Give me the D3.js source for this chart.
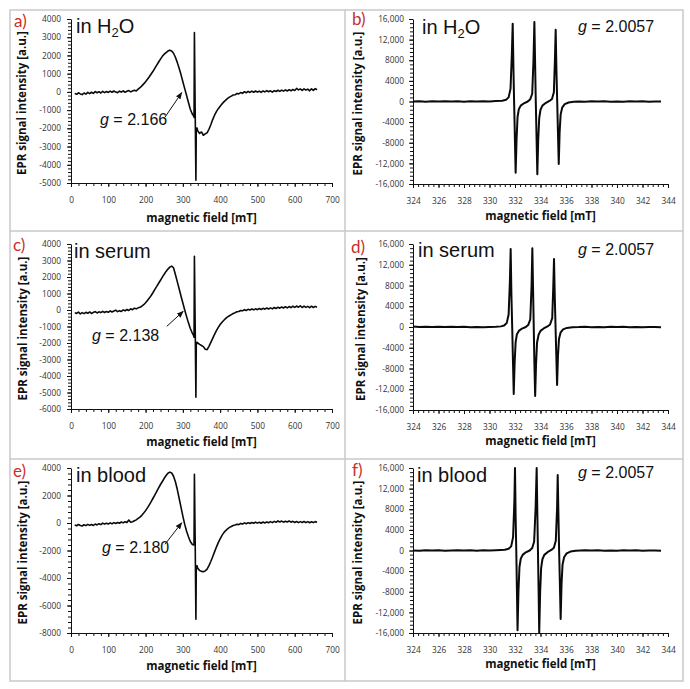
<!DOCTYPE html>
<html>
<head>
<meta charset="utf-8">
<script src="https://cdn.jsdelivr.net/npm/d3@7"></script>
<style>
    body { margin: 0; background: #ffffff; }
    .tick text { font-family: "Open Sans", sans-serif; font-size: 8.3px; fill: #333333; }
    .axis-title { font-family: "Open Sans", sans-serif; font-weight: bold; font-size: 11.5px; fill: #111111; }
    .panel-letter { font-family: "Lato", sans-serif; font-size: 17px; fill: #c8302a; }
    .medium, .g-value { font-family: "Liberation Sans", Arial, sans-serif; fill: #111111; }
</style>
</head>
<body>
<div id="figure"></div>
<script>

/* Data */

// Broad scans (0 - 700 mT): [field in mT, EPR intensity in a.u.]
var spectrumH2O = [
    [10,-80],[15,-130],[20,-50],[25,-110],[30,-150],[35,-60],[40,-120],[45,-30],[50,-100],[55,-20],
    [60,-80],[65,20],[70,-50],[75,10],[80,-60],[85,30],[90,-40],[95,20],[100,-30],[105,40],
    [110,-20],[115,50],[120,-10],[125,-40],[130,40],[135,-10],[140,60],[145,-20],[150,30],[155,70],
    [160,0],[165,50],[170,90],[175,50],[180,150],[185,230],[190,330],[195,440],[200,560],[205,690],
    [210,830],[215,980],[220,1130],[225,1300],[230,1470],[235,1640],[240,1800],[245,1950],[250,2070],[255,2160],
    [260,2240],[265,2290],[270,2250],[275,2120],[280,1900],[285,1620],[290,1300],[295,950],[300,560],[305,180],
    [310,-200],[315,-580],[320,-950],[325,-1200],[329,-1330],[330,-1400],[331,3250],[333,-900],[335,-4850],[336,-2000],
    [338,-1980],[340,-2150],[345,-2280],[350,-2200],[355,-2380],[360,-2300],[365,-2250],[370,-2050],[375,-1800],[380,-1520],
    [385,-1280],[390,-1080],[395,-920],[400,-790],[405,-660],[410,-550],[415,-450],[420,-360],[425,-290],[430,-230],
    [435,-170],[440,-160],[445,-90],[450,-110],[455,-40],[460,-80],[465,10],[470,-50],[475,30],[480,-30],
    [485,40],[490,-20],[495,50],[500,-10],[505,40],[510,-30],[515,50],[520,0],[525,70],[530,10],
    [535,60],[540,-10],[545,70],[550,20],[555,90],[560,30],[565,100],[570,40],[575,110],[580,50],
    [585,120],[590,60],[595,130],[600,80],[605,190],[610,110],[615,160],[620,80],[625,170],[630,100],
    [635,150],[640,60],[645,170],[650,80],[655,180],[660,120]
];

var spectrumSerum = [
    [10,-160],[15,-210],[20,-130],[25,-240],[30,-160],[35,-220],[40,-140],[45,-200],[50,-120],[55,-210],
    [60,-140],[65,-100],[70,-180],[75,-110],[80,-160],[85,-80],[90,-150],[95,-90],[100,-140],[105,-50],
    [110,-120],[115,-60],[120,-10],[125,-100],[130,-40],[135,-90],[140,10],[145,-50],[150,30],[155,-30],
    [160,70],[165,20],[170,110],[175,70],[180,130],[185,170],[190,230],[195,320],[200,440],[205,580],
    [210,720],[215,880],[220,1060],[225,1250],[230,1430],[235,1620],[240,1800],[245,1990],[250,2170],[255,2340],
    [260,2480],[265,2600],[270,2660],[275,2560],[280,2150],[285,1720],[290,1290],[295,850],[300,420],[305,0],
    [310,-400],[315,-780],[320,-1120],[325,-1380],[329,-1560],[330,-1650],[331,3250],[333,-800],[335,-5290],[336,-2100],
    [338,-1950],[340,-2000],[345,-2080],[350,-2150],[355,-2220],[360,-2380],[365,-2400],[370,-2200],[375,-1960],[380,-1720],
    [385,-1480],[390,-1250],[395,-1050],[400,-880],[405,-740],[410,-620],[415,-510],[420,-420],[425,-350],[430,-280],
    [435,-210],[440,-170],[445,-110],[450,-90],[455,-30],[460,-50],[465,20],[470,-30],[475,40],[480,0],
    [485,60],[490,10],[495,70],[500,20],[505,90],[510,30],[515,100],[520,50],[525,120],[530,60],
    [535,130],[540,70],[545,150],[550,90],[555,170],[560,110],[565,180],[570,120],[575,200],[580,130],
    [585,210],[590,140],[595,230],[600,160],[605,240],[610,170],[615,250],[620,150],[625,240],[630,160],
    [635,220],[640,140],[645,230],[650,150],[655,220],[660,170]
];

var spectrumBlood = [
    [10,-150],[15,-200],[20,-110],[25,-180],[30,-220],[35,-130],[40,-190],[45,-100],[50,-170],[55,-110],
    [60,-180],[65,-80],[70,-140],[75,-50],[80,-120],[85,-10],[90,-80],[95,-20],[100,-70],[105,10],
    [110,-60],[115,30],[120,-40],[125,40],[130,-20],[135,70],[140,10],[145,90],[150,30],[155,220],
    [160,60],[165,90],[170,160],[175,230],[180,330],[185,430],[190,560],[195,720],[200,900],[205,1100],
    [210,1320],[215,1550],[220,1800],[225,2050],[230,2300],[235,2550],[240,2800],[245,3020],[250,3250],[255,3450],
    [260,3620],[265,3700],[270,3640],[275,3400],[280,3000],[285,2450],[290,1800],[295,1150],[300,500],[305,-100],
    [310,-600],[315,-1000],[320,-1350],[325,-1550],[329,-1600],[330,-1500],[331,3540],[333,-1200],[335,-7000],[336,-3200],
    [338,-3100],[340,-3300],[345,-3450],[350,-3520],[355,-3550],[360,-3480],[365,-3350],[370,-3100],[375,-2800],[380,-2450],
    [385,-2100],[390,-1750],[395,-1430],[400,-1150],[405,-900],[410,-700],[415,-550],[420,-420],[425,-320],[430,-250],
    [435,-180],[440,-150],[445,-90],[450,-120],[455,-30],[460,-80],[465,10],[470,-50],[475,30],[480,-40],
    [485,40],[490,-20],[495,60],[500,-10],[505,50],[510,-20],[515,70],[520,0],[525,80],[530,20],
    [535,100],[540,30],[545,120],[550,50],[555,150],[560,70],[565,140],[570,60],[575,130],[580,70],
    [585,150],[590,60],[595,120],[600,40],[605,110],[610,30],[615,100],[620,40],[625,110],[630,30],
    [635,100],[640,20],[645,90],[650,30],[655,100],[660,60]
];

// Narrow scans (324 - 344 mT), three nitroxide lines
var narrowH2O = [
    [324.0,0],[324.5,60],[325.0,-30],[325.5,40],[326.0,-20],[326.5,50],[327.0,0],[327.5,40],[328.0,-30],[328.5,50],
    [329.0,10],[329.5,60],[330.0,20],[330.5,80],[331.0,150],
    [331.3,350],[331.5,800],[331.65,2500],[331.75,9000],[331.82,15100],[331.88,6000],[331.93,0],[331.99,-7000],[332.05,-13800],[332.12,-7500],
    [332.2,-3000],[332.3,-1500],[332.45,-800],[332.7,-350],
    [333.0,0],[333.2,450],[333.35,1500],[333.45,8000],[333.52,15400],[333.58,7000],[333.63,0],[333.69,-7000],[333.75,-14100],[333.82,-7500],
    [333.9,-3200],[334.0,-1600],[334.15,-800],[334.4,-300],
    [334.7,100],[334.9,500],[335.05,1800],[335.13,8000],[335.19,13900],[335.25,6000],[335.31,0],[335.37,-6000],[335.43,-12100],[335.5,-6000],
    [335.58,-2500],[335.7,-1200],[335.9,-500],[336.2,-200],[336.6,-50],
    [337.0,0],[337.5,-40],[338.0,30],[338.5,-20],[339.0,40],[339.5,-30],[340.0,20],[340.5,-40],[341.0,30],[341.5,-20],
    [342.0,40],[342.5,-30],[343.0,20],[343.45,-10]
];

var narrowSerum = [
    [324.0,80],[324.5,20],[325.0,60],[325.5,-10],[326.0,40],[326.5,0],[327.0,50],[327.5,-20],[328.0,30],[328.5,-30],
    [329.0,20],[329.5,-40],[330.0,10],[330.5,30],
    [330.9,120],[331.15,300],[331.35,750],[331.5,2400],[331.6,8800],[331.66,15040],[331.72,6000],[331.78,0],[331.84,-6500],[331.9,-12900],
    [331.97,-7000],[332.05,-2900],[332.15,-1400],[332.3,-750],[332.55,-300],
    [332.85,0],[333.05,450],[333.2,1500],[333.3,8000],[333.36,15170],[333.42,7000],[333.47,0],[333.52,-6800],[333.58,-13300],[333.65,-7200],
    [333.73,-3000],[333.85,-1500],[334.0,-750],[334.25,-280],
    [334.55,100],[334.75,480],[334.92,1700],[335.0,7600],[335.06,13100],[335.12,5800],[335.18,0],[335.24,-5500],[335.3,-11180],[335.37,-5600],
    [335.45,-2300],[335.57,-1100],[335.77,-450],[336.07,-180],[336.5,-40],
    [337.0,-20],[337.5,30],[338.0,-40],[338.5,20],[339.0,-30],[339.5,40],[340.0,-10],[340.5,30],[341.0,-40],[341.5,20],
    [342.0,-30],[342.5,10],[343.0,-20],[343.45,-60]
];

var narrowBlood = [
    [324.0,20],[324.5,-30],[325.0,40],[325.5,-10],[326.0,30],[326.5,-40],[327.0,10],[327.5,50],[328.0,-20],[328.5,30],
    [329.0,-30],[329.5,40],[330.0,0],[330.5,50],
    [331.2,150],[331.5,350],[331.7,800],[331.85,2600],[331.95,9500],[332.0,16000],[332.05,6500],[332.1,0],[332.15,-7500],[332.2,-15480],
    [332.27,-8000],[332.35,-3200],[332.45,-1600],[332.6,-850],[332.85,-350],
    [333.15,0],[333.35,500],[333.5,1700],[333.62,8500],[333.7,16000],[333.75,7500],[333.8,0],[333.85,-7500],[333.9,-16000],[333.97,-8200],
    [334.05,-3400],[334.15,-1700],[334.3,-850],[334.55,-320],
    [334.85,100],[335.05,520],[335.2,1900],[335.3,8200],[335.35,14630],[335.41,6400],[335.46,0],[335.52,-6500],[335.58,-13270],[335.65,-6500],
    [335.73,-2700],[335.85,-1300],[336.05,-550],[336.35,-200],[336.75,-50],
    [337.5,30],[338.0,-20],[338.5,40],[339.0,-30],[339.5,20],[340.0,-40],[340.5,30],[341.0,-20],[341.5,40],[342.0,-30],
    [342.5,10],[343.0,-20],[343.45,-40]
];

// Axis ticks and labels
var wideFieldTicks = [0, 100, 200, 300, 400, 500, 600, 700];
var narrowFieldTicks = [324, 326, 328, 330, 332, 334, 336, 338, 340, 342, 344];
var h2oTicks = [-5000, -4000, -3000, -2000, -1000, 0, 1000, 2000, 3000, 4000];
var serumTicks = [-6000, -5000, -4000, -3000, -2000, -1000, 0, 1000, 2000, 3000, 4000];
var bloodTicks = [-8000, -6000, -4000, -2000, 0, 2000, 4000];
var narrowTicks = [-16000, -12000, -8000, -4000, 0, 4000, 8000, 12000, 16000];
var narrowTickLabels = ["-16,000", "-12,000", "-8000", "-4000", "0", "4000", "8000", "12,000", "16,000"];

// Panel texts
var panelLetters = ["a)", "b)", "c)", "d)", "e)", "f)"];
var media = ["H2O", "H2O", "serum", "serum", "blood", "blood"];
var gValues = ["2.166", "2.0057", "2.138", "2.0057", "2.180", "2.0057"];

/* Layout */

var width = 690;
var height = 689;

var svg = d3.select("#figure")
            .append("svg")
                .attr("width", width)
                .attr("height", height);

// arrow head for the g-value pointers
svg.append("defs")
    .append("marker")
        .attr("id", "arrow-head")
        .attr("viewBox", "0 0 10 10")
        .attr("refX", 9)
        .attr("refY", 5)
        .attr("markerWidth", 7)
        .attr("markerHeight", 7)
        .attr("orient", "auto")
    .append("path")
        .attr("d", "M0,1 L10,5 L0,9 Z")
        .attr("fill", "#111");

// Grey table frame around the panels
var frame = svg.append("g")
                .attr("fill", "none")
                .attr("stroke", "#c9c9c9")
                .attr("stroke-width", 1.5);

frame.append("rect").attr("x", 10).attr("y", 10).attr("width", 673).attr("height", 671);
frame.append("line").attr("x1", 345).attr("x2", 345).attr("y1", 10).attr("y2", 681);
frame.append("line").attr("x1", 10).attr("x2", 683).attr("y1", 231).attr("y2", 231);
frame.append("line").attr("x1", 10).attr("x2", 683).attr("y1", 459).attr("y2", 459);

var panels = [
    { data: spectrumH2O, xDomain: [0, 700], yDomain: [-5000, 4000], xTicks: wideFieldTicks, yTicks: h2oTicks,
      xMinor: 20, yMinor: 200, box: {left: 71, right: 332, top: 19, bottom: 183},
      letterPos: [14, 27], mediumPos: [76, 33], gPos: [100, 125], arrow: [252, -1390, 297, -40],
      yTitleX: 22, xTitleY: 222, lineWidth: 1.6 },
    { data: narrowH2O, xDomain: [324, 344], yDomain: [-16000, 16000], xTicks: narrowFieldTicks, yTicks: narrowTicks,
      yLabels: narrowTickLabels, xMinor: 0.4, yMinor: 800, box: {left: 413, right: 668, top: 19, bottom: 184},
      letterPos: [352, 25], mediumPos: [422, 34], gPos: [578, 32],
      yTitleX: 358, xTitleY: 220, lineWidth: 2 },
    { data: spectrumSerum, xDomain: [0, 700], yDomain: [-6000, 4000], xTicks: wideFieldTicks, yTicks: serumTicks,
      xMinor: 20, yMinor: 200, box: {left: 71, right: 332, top: 244, bottom: 409},
      letterPos: [13, 251], mediumPos: [74, 258], gPos: [92, 341], arrow: [257, -990, 301, -80],
      yTitleX: 23, xTitleY: 446, lineWidth: 1.6 },
    { data: narrowSerum, xDomain: [324, 344], yDomain: [-16000, 16000], xTicks: narrowFieldTicks, yTicks: narrowTicks,
      yLabels: narrowTickLabels, xMinor: 0.4, yMinor: 800, box: {left: 413, right: 668, top: 244, bottom: 410},
      letterPos: [351, 253], mediumPos: [418, 257], gPos: [578, 255],
      yTitleX: 361, xTitleY: 445, lineWidth: 2 },
    { data: spectrumBlood, xDomain: [0, 700], yDomain: [-8000, 4000], xTicks: wideFieldTicks, yTicks: bloodTicks,
      xMinor: 20, yMinor: 400, box: {left: 71, right: 332, top: 468, bottom: 633},
      letterPos: [13, 477], mediumPos: [76, 482], gPos: [102, 553], arrow: [252, -1550, 297, 20],
      yTitleX: 23, xTitleY: 670, lineWidth: 1.6 },
    { data: narrowBlood, xDomain: [324, 344], yDomain: [-16000, 16000], xTicks: narrowFieldTicks, yTicks: narrowTicks,
      yLabels: narrowTickLabels, xMinor: 0.4, yMinor: 800, box: {left: 413, right: 668, top: 468, bottom: 633},
      letterPos: [352, 476], mediumPos: [417, 482], gPos: [578, 478],
      yTitleX: 358, xTitleY: 668, lineWidth: 2 }
];

panels.forEach(function(p, i) { drawPanel(p, i); });

/* Draw Methods */

function drawPanel(p, i) {

    var g = svg.append("g").attr("class", "panel");

    var x = d3.scaleLinear().domain(p.xDomain).range([p.box.left, p.box.right]);
    var y = d3.scaleLinear().domain(p.yDomain).range([p.box.bottom, p.box.top]);

    // minor tick positions
    var xMinorValues = d3.range(p.xDomain[0], p.xDomain[1] + p.xMinor / 2, p.xMinor);
    var yMinorValues = d3.range(p.yDomain[0], p.yDomain[1] + p.yMinor / 2, p.yMinor);

    // Minor ticks
    g.append("g")
        .attr("transform", "translate(0," + p.box.bottom + ")")
        .call(d3.axisBottom(x).tickValues(xMinorValues).tickFormat("").tickSize(3).tickSizeOuter(0))
        .call(function(s) { s.select(".domain").remove(); });

    g.append("g")
        .attr("transform", "translate(" + p.box.left + ",0)")
        .call(d3.axisLeft(y).tickValues(yMinorValues).tickFormat("").tickSize(3).tickSizeOuter(0))
        .call(function(s) { s.select(".domain").remove(); });

    // Major x axis
    g.append("g")
        .attr("transform", "translate(0," + p.box.bottom + ")")
        .call(d3.axisBottom(x).tickValues(p.xTicks).tickSize(4).tickSizeOuter(0).tickPadding(10)
                .tickFormat(function(d) { return String(d); }));

    // Major y axis
    var labels = p.yLabels;
    g.append("g")
        .attr("transform", "translate(" + p.box.left + ",0)")
        .call(d3.axisLeft(y).tickValues(p.yTicks).tickSize(4).tickSizeOuter(0).tickPadding(labels ? 5 : 6)
                .tickFormat(function(d, k) { return labels ? labels[k] : String(d); }));

    g.selectAll(".domain").attr("stroke", "#111");
    g.selectAll(".tick line").attr("stroke", "#111");

    // Spectrum line
    var line = d3.line()
                .x(function(d) { return x(d[0]); })
                .y(function(d) { return y(d[1]); });

    g.append("path")
        .datum(p.data)
        .attr("fill", "none")
        .attr("stroke", "#0a0a0a")
        .attr("stroke-width", p.lineWidth)
        .attr("stroke-linejoin", "round")
        .attr("d", line);

    // Axis titles
    g.append("text")
        .attr("class", "axis-title")
        .attr("x", (p.box.left + p.box.right) / 2)
        .attr("y", p.xTitleY)
        .attr("text-anchor", "middle")
        .text("magnetic field [mT]");

    g.append("text")
        .attr("class", "axis-title")
        .attr("transform", "translate(" + p.yTitleX + "," + ((p.box.top + p.box.bottom) / 2 + 2) + ") rotate(-90)")
        .attr("dy", "0.35em")
        .attr("text-anchor", "middle")
        .text("EPR signal intensity [a.u.]");

    // Panel letter
    g.append("text")
        .attr("class", "panel-letter")
        .attr("x", p.letterPos[0])
        .attr("y", p.letterPos[1])
        .text(panelLetters[i]);

    // Medium label
    var medium = g.append("text")
        .attr("class", "medium")
        .attr("x", p.mediumPos[0])
        .attr("y", p.mediumPos[1])
        .attr("font-size", 20);

    if (media[i] === "H2O") {
        medium.append("tspan").text("in H");
        medium.append("tspan").attr("font-size", 13).attr("dy", 4).text("2");
        medium.append("tspan").attr("dy", -4).text("O");
    } else {
        medium.text("in " + media[i]);
    }

    // g value
    var gText = g.append("text")
        .attr("class", "g-value")
        .attr("x", p.gPos[0])
        .attr("y", p.gPos[1])
        .attr("font-size", 16);
    gText.append("tspan").attr("font-style", "italic").text("g");
    gText.append("tspan").text(" = " + gValues[i]);

    // pointer arrow from the label to the broad line
    if (p.arrow) {
        g.append("line")
            .attr("x1", x(p.arrow[0]))
            .attr("y1", y(p.arrow[1]))
            .attr("x2", x(p.arrow[2]))
            .attr("y2", y(p.arrow[3]))
            .attr("stroke", "#111")
            .attr("stroke-width", 1)
            .attr("marker-end", "url(#arrow-head)");
    }
}

</script>
</body>
</html>
